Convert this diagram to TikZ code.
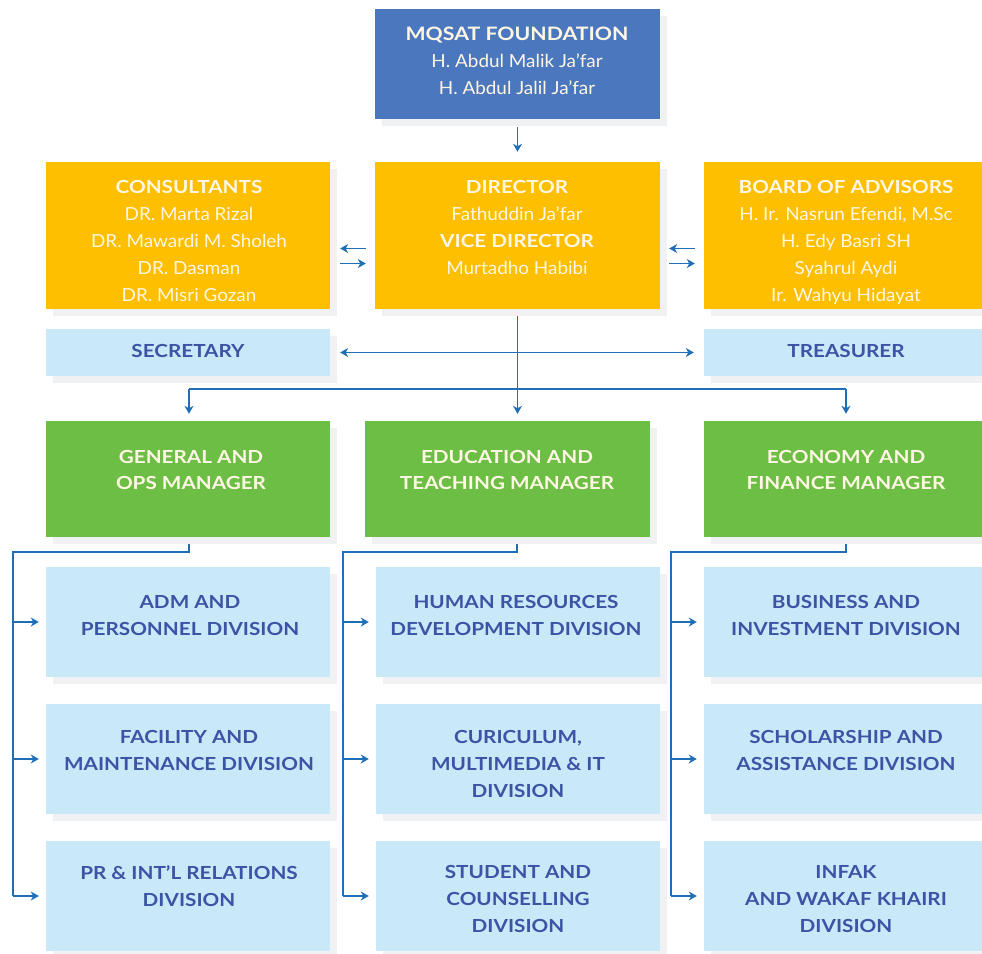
\documentclass[tikz,border=0pt]{standalone}
\usepackage{fontspec}
\setmainfont{Lato}[FakeStretch=1.05]
\newfontfamily\hb{Lato}[FakeStretch=1.15]
\usetikzlibrary{arrows.meta,shadows,calc}
\definecolor{topblue}{HTML}{4A77BE}
\definecolor{amber}{HTML}{FEBF00}
\definecolor{lblue}{HTML}{C9E8F8}
\definecolor{grn}{HTML}{6DBE45}
\definecolor{dtext}{HTML}{3B54A5}
\definecolor{cream}{HTML}{FFF7E4}
\definecolor{lnc}{HTML}{1E6FB7}
\definecolor{shc}{HTML}{F0F1F3}
\newcommand{\hd}{\hb\bfseries}
\begin{document}
\begin{tikzpicture}[x=1pt,y=-1pt,
  bx/.style={rectangle, inner sep=0pt, draw=none,
    drop shadow={shadow xshift=7pt, shadow yshift=-7pt, fill=shc, opacity=1}},
  wide/.style={minimum width=284pt},
  narrow/.style={minimum width=278pt},
  txt/.style={inner sep=0pt, align=center, font=\fontsize{18}{27}\selectfont},
  lt/.style={txt, text=cream, anchor=north},
  dk/.style={txt, text=dtext, anchor=north, font=\fontsize{18}{27}\selectfont\hd},
  ln/.style={draw=lnc, line width=1.2pt},
  arr/.style={ln, -{Stealth[length=8pt,width=9pt,inset=2.5pt]}},
  arrb/.style={ln, {Stealth[length=8pt,width=9pt,inset=2.5pt]}-{Stealth[length=8pt,width=9pt,inset=2.5pt]}}]
\useasboundingbox (0,0) rectangle (982,953);
% top
\node[bx, fill=topblue, minimum width=285pt, minimum height=110pt] (top) at (517.5,64) {};
\node[lt] (topT) at (517,27) {{\fontsize{18.5}{27}\selectfont\hd MQSAT FOUNDATION}\\H. Abdul Malik Ja’far\\H. Abdul Jalil Ja’far};
% second row
\node[bx, fill=amber, wide, minimum height=147pt] (cons) at (188,235.5) {};
\node[bx, fill=amber, minimum width=285pt, minimum height=147pt] (dir) at (517.5,235.5) {};
\node[bx, fill=amber, narrow, minimum height=147pt] (board) at (843,235.5) {};
\node[lt] (consT) at (189,180) {{\hd CONSULTANTS}\\DR. Marta Rizal\\DR. Mawardi M. Sholeh\\DR. Dasman\\DR. Misri Gozan};
\node[lt] (dirT) at (517,180) {{\hd DIRECTOR}\\Fathuddin Ja’far\\{\hd VICE DIRECTOR}\\Murtadho Habibi};
\node[lt] (boardT) at (846,180) {{\hd BOARD OF ADVISORS}\\H. Ir. Nasrun Efendi, M.Sc\\H. Edy Basri SH\\Syahrul Aydi\\Ir. Wahyu Hidayat};
% secretary / treasurer
\node[bx, fill=lblue, wide, minimum height=47pt] (sec) at (188,352.5) {};
\node[bx, fill=lblue, narrow, minimum height=47pt] (tre) at (843,352.5) {};
\node[dk, anchor=center] (secT) at (188,350.5) {SECRETARY};
\node[dk, anchor=center] (treT) at (846,350.5) {TREASURER};
% managers
\node[bx, fill=grn, wide, minimum height=116pt] (gen) at (188,479) {};
\node[bx, fill=grn, minimum width=285pt, minimum height=116pt] (edu) at (507.5,479) {};
\node[bx, fill=grn, narrow, minimum height=116pt] (eco) at (843,479) {};
\node[lt, font=\fontsize{18}{26.5}\selectfont\hd] (genT) at (191,450) {GENERAL AND\\OPS MANAGER};
\node[lt, font=\fontsize{18}{26.5}\selectfont\hd] (eduT) at (507,450) {EDUCATION AND\\TEACHING MANAGER};
\node[lt, font=\fontsize{18}{26.5}\selectfont\hd] (ecoT) at (846,450) {ECONOMY AND\\FINANCE MANAGER};
% divisions
\foreach \r/\y in {1/622,2/759,3/896}{
  \node[bx, fill=lblue, wide, minimum height=110pt] (d1\r) at (188,\y) {};
  \node[bx, fill=lblue, wide, minimum height=110pt] (d2\r) at (518,\y) {};
  \node[bx, fill=lblue, narrow, minimum height=110pt] (d3\r) at (843,\y) {};
}
\node[dk] (d11T) at (190,595) {ADM AND\\PERSONNEL DIVISION};
\node[dk] (d12T) at (189,730) {FACILITY AND\\MAINTENANCE DIVISION};
\node[dk] (d13T) at (189,865) {PR \& INT’L RELATIONS\\DIVISION};
\node[dk] (d21T) at (516,595) {HUMAN RESOURCES\\DEVELOPMENT DIVISION};
\node[dk] (d22T) at (518,730) {CURICULUM,\\MULTIMEDIA \& IT\\DIVISION};
\node[dk] (d23T) at (518,865) {STUDENT AND\\COUNSELLING\\DIVISION};
\node[dk] (d31T) at (846,595) {BUSINESS AND\\INVESTMENT DIVISION};
\node[dk] (d32T) at (846,730) {SCHOLARSHIP AND\\ASSISTANCE DIVISION};
\node[dk] (d33T) at (846,865) {INFAK\\AND WAKAF KHAIRI\\DIVISION};
% connectors
\draw[arr] ($(top.south)+(0,8)$) -- ($(dir.north)+(0,-10)$);
\draw[arr] ($(dir.west)+(-9,13)$) -- ($(cons.east)+(10,13)$);
\draw[arr] ($(cons.east)+(10,28)$) -- ($(dir.west)+(-9,28)$);
\draw[arr] ($(board.west)+(-9,13)$) -- ($(dir.east)+(9,13)$);
\draw[arr] ($(dir.east)+(9,28)$) -- ($(board.west)+(-9,28)$);
\draw[arrb] ($(sec.east)+(10,0)$) -- ($(tre.west)+(-10,0)$);
\draw[arr] ($(dir.south)+(0,7)$) -- ($(dir.south |- edu.north)+(0,-7)$);
\coordinate (barL) at (189,389);
\coordinate (barR) at (846,389);
\draw[ln] (barL) -- (barR);
\draw[arr] (barL) -- ($(barL |- gen.north)+(0,-7)$);
\draw[arr] (barR) -- ($(barR |- eco.north)+(0,-7)$);
\coordinate (s1) at (189,552); \coordinate (r1) at (13,552);
\coordinate (s2) at (517,552); \coordinate (r2) at (343,552);
\coordinate (s3) at (846,552); \coordinate (r3) at (671,552);
\draw[ln] ($(s1 |- gen.south)+(0,7)$) -- (s1) -- (r1) -- (r1 |- d13.west);
\draw[ln] ($(s2 |- edu.south)+(0,7)$) -- (s2) -- (r2) -- (r2 |- d23.west);
\draw[ln] ($(s3 |- eco.south)+(0,7)$) -- (s3) -- (r3) -- (r3 |- d33.west);
\foreach \c in {1,2,3}{
  \foreach \r in {1,2,3}{
    \draw[arr] (r\c |- d\c\r.west) -- ($(d\c\r.west)+(-7,0)$);
  }
}
\end{tikzpicture}
\end{document}
